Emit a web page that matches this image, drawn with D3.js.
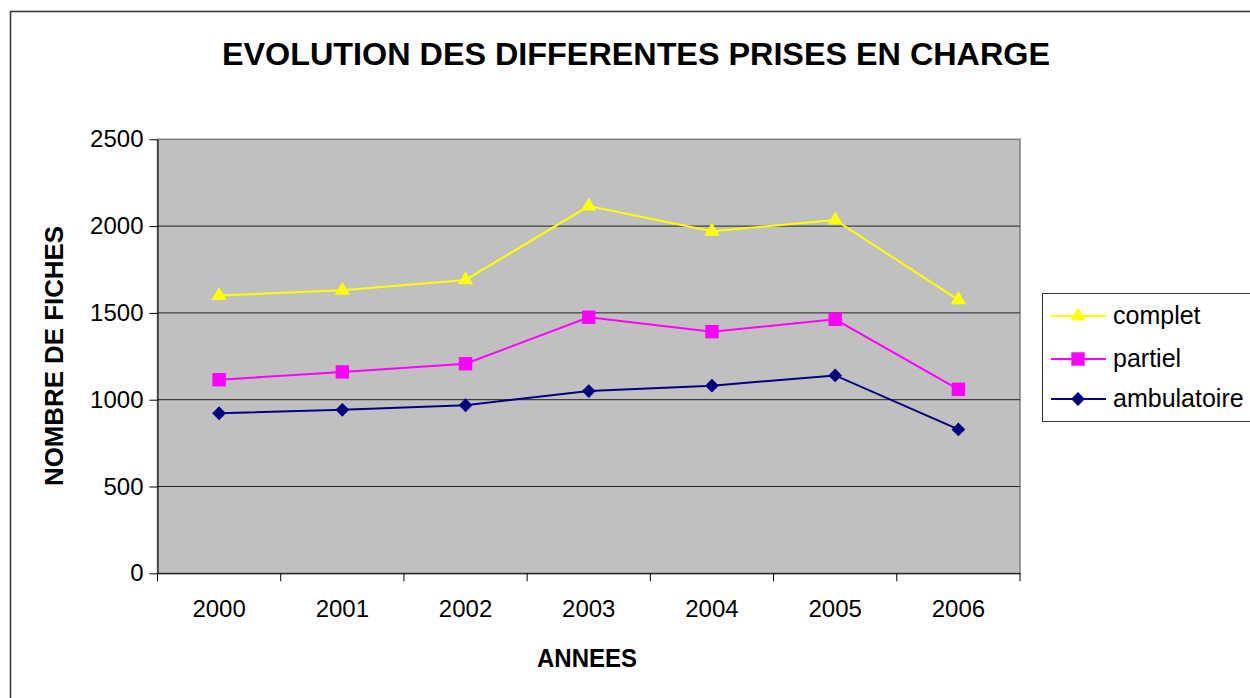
<!DOCTYPE html>
<html><head><meta charset="utf-8">
<script src="https://cdn.jsdelivr.net/npm/d3@7"></script>
<style>body{margin:0;background:#fff}svg{display:block;font-family:"Liberation Sans",Arial,sans-serif}</style>
</head><body><svg id="c" width="1250" height="698"></svg>
<script>
const years = ["2000","2001","2002","2003","2004","2005","2006"];
const complet = [1600,1630,1690,2115,1970,2035,1575];
const partiel = [1115,1160,1207,1475,1392,1463,1060];
const ambulatoire = [922,942,968,1050,1081,1140,829];
const yTicks = [0,500,1000,1500,2000,2500];
const seriesNames = ["complet","partiel","ambulatoire"];

const svg = d3.select("#c");
const L=157.5,R=1020,T=139.3,B=573.3;
svg.append("rect").attr("x",10.5).attr("y",11.5).attr("width",1250).attr("height",700).attr("fill","#fff").attr("stroke","#333").attr("stroke-width",1.5);

const x = d3.scaleBand().domain(years).range([L,R]);
const y = d3.scaleLinear().domain([0,2500]).range([B,T]);

svg.append("rect").attr("x",L).attr("y",T).attr("width",R-L).attr("height",B-T).attr("fill","#c0c0c0").attr("stroke","#808080").attr("stroke-width",1.5);

svg.append("g").selectAll("line").data(yTicks.slice(1,5)).join("line")
  .attr("x1",L).attr("x2",R).attr("y1",d=>y(d)).attr("y2",d=>y(d)).attr("stroke","#222").attr("stroke-width",1);

const yAxis = svg.append("g").attr("transform",`translate(${L},0)`)
  .call(d3.axisLeft(y).tickValues(yTicks).tickFormat(d3.format("d")).tickSize(8).tickSizeOuter(0).tickPadding(6));
yAxis.selectAll("text").attr("font-size",24).attr("fill","#000").attr("font-family","Liberation Sans, Arial, sans-serif");
yAxis.selectAll("line,path").attr("stroke","#000");

const xAxis = svg.append("g").attr("transform",`translate(0,${B})`).call(d3.axisBottom(x).tickSize(0).tickPadding(27));
xAxis.select("path").attr("stroke","#000");
xAxis.selectAll("text").attr("font-size",24).attr("fill","#000").attr("font-family","Liberation Sans, Arial, sans-serif");
const bounds = years.map(d=>x(d)).concat([R]);
svg.append("g").selectAll("line").data(bounds).join("line")
  .attr("x1",d=>d).attr("x2",d=>d).attr("y1",B).attr("y2",B+8).attr("stroke","#000");

const series = [
  {name:"complet",vals:complet,color:"#ffff00",sym:d3.symbolTriangle,size:100,rot:0},
  {name:"partiel",vals:partiel,color:"#ff00ff",sym:d3.symbolSquare,size:180,rot:0},
  {name:"ambulatoire",vals:ambulatoire,color:"#000080",sym:d3.symbolSquare,size:95,rot:45}
];
const line = d3.line().x((d,i)=>x(years[i])+x.bandwidth()/2).y(d=>y(d));
series.forEach(s=>{
  svg.append("path").attr("d",line(s.vals)).attr("fill","none").attr("stroke",s.color).attr("stroke-width",2);
  svg.append("g").selectAll("path").data(s.vals).join("path")
    .attr("d",d3.symbol().type(s.sym).size(s.size))
    .attr("transform",(d,i)=>`translate(${x(years[i])+x.bandwidth()/2},${y(d)}) rotate(${s.rot})`)
    .attr("fill",s.color);
});

// legend
svg.append("rect").attr("x",1042.5).attr("y",293.5).attr("width",220).attr("height",128).attr("fill","#fff").attr("stroke","#333").attr("stroke-width",1);
const legY=[316,359,399];
series.forEach((s,i)=>{
  svg.append("line").attr("x1",1051).attr("x2",1106).attr("y1",legY[i]).attr("y2",legY[i]).attr("stroke",s.color).attr("stroke-width",2);
  svg.append("path").attr("d",d3.symbol().type(s.sym).size(s.size)()).attr("transform",`translate(1078,${legY[i]}) rotate(${s.rot})`).attr("fill",s.color);
  svg.append("text").attr("x",1113).attr("y",legY[i]+8).attr("font-size",25).text(seriesNames[i]);
});

svg.append("text").attr("x",222).attr("y",65).attr("font-size",31).attr("font-weight","bold")
  .attr("textLength",828).attr("lengthAdjust","spacingAndGlyphs").text("EVOLUTION DES DIFFERENTES PRISES EN CHARGE");
svg.append("text").attr("x",537).attr("y",667).attr("font-size",25).attr("font-weight","bold")
  .attr("textLength",100).attr("lengthAdjust","spacingAndGlyphs").text("ANNEES");
svg.append("text").attr("transform","translate(63,486) rotate(-90)").attr("font-size",25).attr("font-weight","bold")
  .attr("textLength",260).attr("lengthAdjust","spacingAndGlyphs").text("NOMBRE DE FICHES");
</script></body></html>
